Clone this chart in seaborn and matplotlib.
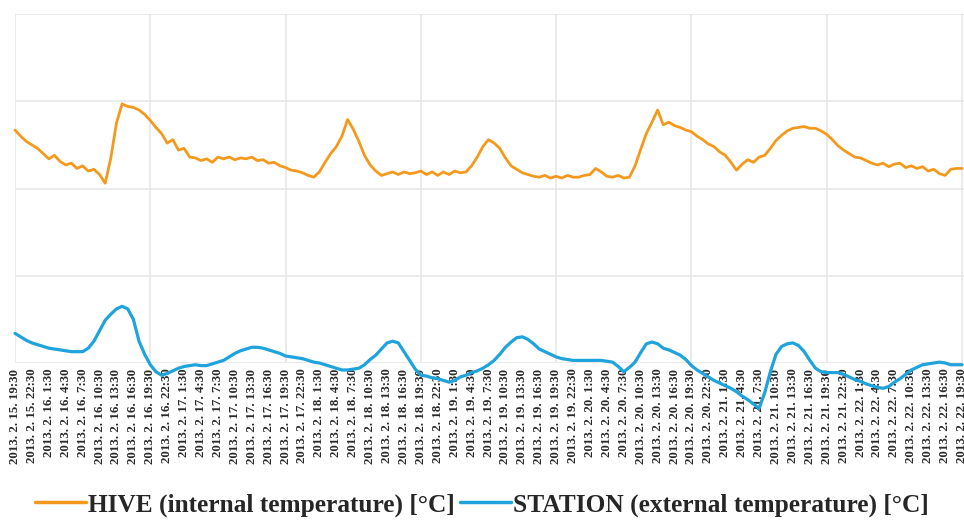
import numpy as np
import pandas as pd
import matplotlib
matplotlib.use("Agg")
import matplotlib.pyplot as plt
import seaborn as sns
from matplotlib.lines import Line2D

# hours since 2013-02-15 19:30, hourly readings
hours = list(range(0, 169))

hive = [26.7, 26.0, 25.4, 25.0, 24.6, 24.0, 23.4, 23.8, 23.1, 22.7,
        22.9, 22.3, 22.6, 22.0, 22.2, 21.6, 20.6, 23.5, 27.5, 29.7,
        29.4, 29.3, 29.0, 28.5, 27.8, 27.0, 26.3, 25.2, 25.6, 24.4,
        24.6, 23.6, 23.5, 23.2, 23.4, 23.0, 23.6, 23.4, 23.6, 23.3,
        23.5, 23.4, 23.6, 23.2, 23.3, 22.9, 23.0, 22.6, 22.4, 22.1,
        22.0, 21.8, 21.5, 21.3, 21.9, 23.0, 24.0, 24.8, 26.0, 27.9,
        26.8, 25.4, 23.8, 22.7, 22.0, 21.5, 21.7, 21.9, 21.6, 21.9,
        21.7, 21.8, 22.0, 21.6, 21.9, 21.5, 21.9, 21.6, 22.0, 21.8,
        21.9, 22.6, 23.6, 24.8, 25.6, 25.2, 24.6, 23.5, 22.6, 22.2,
        21.8, 21.6, 21.4, 21.3, 21.5, 21.2, 21.4, 21.2, 21.5, 21.3,
        21.3, 21.5, 21.6, 22.3, 21.9, 21.4, 21.3, 21.5, 21.2, 21.3,
        22.6, 24.5, 26.3, 27.6, 29.0, 27.3, 27.6, 27.2, 27.0, 26.7,
        26.5, 26.0, 25.6, 25.1, 24.8, 24.2, 23.8, 23.0, 22.1, 22.8,
        23.3, 23.0, 23.6, 23.8, 24.6, 25.5, 26.1, 26.6, 26.9, 27.0,
        27.1, 26.9, 26.9, 26.6, 26.2, 25.6, 24.9, 24.4, 24.0, 23.6,
        23.5, 23.2, 22.9, 22.7, 22.9, 22.5, 22.8, 22.9, 22.4, 22.6,
        22.3, 22.5, 22.0, 22.2, 21.7, 21.5, 22.2, 22.3, 22.3]

station = [3.4, 3.0, 2.6, 2.3, 2.1, 1.9, 1.7, 1.6, 1.5, 1.4,
           1.3, 1.3, 1.3, 1.7, 2.5, 3.7, 4.9, 5.6, 6.2, 6.5,
           6.2, 5.0, 2.5, 1.0, -0.2, -1.0, -1.4, -1.2, -0.9, -0.6,
           -0.4, -0.3, -0.2, -0.3, -0.3, -0.1, 0.1, 0.3, 0.7, 1.1,
           1.4, 1.6, 1.8, 1.8, 1.7, 1.5, 1.3, 1.1, 0.8, 0.7,
           0.6, 0.5, 0.3, 0.1, 0.0, -0.2, -0.4, -0.6, -0.8, -0.8,
           -0.7, -0.6, -0.2, 0.4, 0.9, 1.6, 2.3, 2.5, 2.3, 1.3,
           0.3, -0.7, -1.4, -1.5, -1.7, -1.8, -2.0, -2.2, -2.0, -1.6,
           -1.4, -1.1, -0.9, -0.6, -0.2, 0.3, 1.0, 1.8, 2.4, 2.9,
           3.0, 2.7, 2.2, 1.6, 1.3, 1.0, 0.7, 0.5, 0.4, 0.3,
           0.3, 0.3, 0.3, 0.3, 0.3, 0.2, 0.1, -0.4, -1.0, -0.5,
           0.1, 1.2, 2.2, 2.4, 2.2, 1.7, 1.5, 1.2, 0.9, 0.4,
           -0.3, -0.8, -1.2, -1.6, -2.0, -2.3, -2.6, -2.9, -3.3, -3.8,
           -4.2, -4.7, -5.2, -3.4, -1.0, 1.0, 1.9, 2.2, 2.3, 2.0,
           1.3, 0.3, -0.6, -1.0, -1.1, -1.1, -1.1, -1.3, -1.6, -1.9,
           -2.1, -2.4, -2.6, -2.8, -2.9, -2.7, -2.2, -1.8, -1.3, -0.8,
           -0.5, -0.2, -0.1, 0.0, 0.1, 0.0, -0.2, -0.2, -0.2]

series_names = ["HIVE (internal temperature) [°C]",
                "STATION (external temperature) [°C]"]
series_colors = ["#F39A1E", "#1EA3DC"]

start_time = pd.Timestamp("2013-02-15 19:30")
tick_hours = list(range(0, 169, 3))
tick_labels = [
    f"{t.year}. {t.month}. {t.day}. {t.hour}:{t.minute:02d}"
    for t in (start_time + pd.Timedelta(hours=h) for h in tick_hours)
]
y_grid = [0, 10, 20, 30, 40]
day_lines = [0, 24, 48, 72, 96, 120, 144, 168]

df = pd.DataFrame({
    "hour": hours * 2,
    "temp": hive + station,
    "series": [series_names[0]] * len(hive) + [series_names[1]] * len(station),
})

sns.set_theme(style="white")
plt.rcParams["font.family"] = ["Liberation Serif", "DejaVu Serif"]

fig = plt.figure(figsize=(9.64, 5.2), dpi=100)
ax = fig.add_axes([15 / 964, 1 - 363 / 520, 949 / 964, (363 - 14) / 520])

grid_color = "#e6e6e6"
for v in y_grid:
    ax.axhline(v, color=grid_color, lw=1.1, zorder=0)
for d in day_lines:
    ax.axvline(d, color=grid_color, lw=1.1, zorder=0)

sns.lineplot(data=df, x="hour", y="temp", hue="series",
             palette=dict(zip(series_names, series_colors)),
             ax=ax, legend=False, linewidth=2.0)
for ln in ax.lines[-2:]:
    ln.set_clip_on(False)
ax.lines[-1].set_linewidth(2.3)

ax.set_xlim(0, 168.35)
ax.set_ylim(0, 40)
ax.set_yticks([])
ax.set_xticks(tick_hours)
ax.set_xticklabels(tick_labels, rotation=90, fontsize=9.3,
                   fontweight="bold", color="#2a2a2a")
ax.tick_params(axis="x", length=0, pad=4)
ax.set_xlabel("")
ax.set_ylabel("")
for s in ax.spines.values():
    s.set_visible(False)

handles = [Line2D([], [], color=c, lw=2.5) for c in series_colors]
fig.legend(handles, series_names, loc="center", ncol=2,
           bbox_to_anchor=(0.5, 1 - 505 / 520), frameon=False,
           prop={"family": "Liberation Serif", "weight": "bold", "size": 18.3},
           handlelength=2.0, handletextpad=0.1, columnspacing=0.2)

fig.savefig("out.png", dpi=100)
